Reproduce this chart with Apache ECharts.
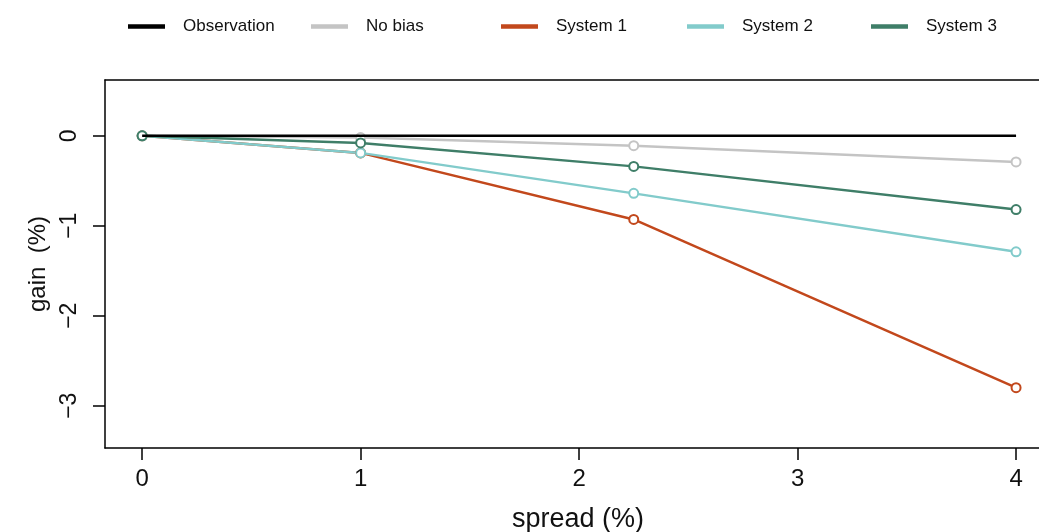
<!DOCTYPE html>
<html>
<head>
<meta charset="utf-8">
<script src="https://cdn.jsdelivr.net/npm/echarts@6/dist/echarts.min.js"></script>
<style>
html, body { margin: 0; padding: 0; background: #fff; }
#main { width: 1039px; height: 532px; }
</style>
</head>
<body>
<div id="main"></div>
<script>
var spread = [0, 1, 2.25, 4];
var observation = [0, 0, 0, 0];
var noBias = [0, -0.02, -0.11, -0.29];
var system1 = [0, -0.19, -0.93, -2.80];
var system2 = [0, -0.19, -0.64, -1.29];
var system3 = [0, -0.08, -0.34, -0.82];
var xTicks = [0, 1, 2, 3, 4];
var yTicks = [0, -1, -2, -3];

var names = ['Observation', 'No bias', 'System 1', 'System 2', 'System 3'];
var colors = ['#000000', '#c4c4c4', '#c2481c', '#82cbcb', '#3f7e68'];
var values = [observation, noBias, system1, system2, system3];
var legendLeft = [123, 306, 496, 682, 866];

var font = 'Liberation Sans, Arial, sans-serif';

function pairs(ys) {
    return spread.map(function (x, i) { return [x, ys[i]]; });
}

var dom = document.getElementById('main');
var myChart = echarts.init(dom);

var series = [];
var order = [1, 2, 3, 4, 0];
order.forEach(function (i) {
    series.push({
        name: names[i],
        type: 'line',
        data: pairs(values[i]),
        symbol: i === 0 ? 'none' : 'emptyCircle',
        symbolSize: 9,
        showSymbol: i !== 0,
        lineStyle: { color: colors[i], width: 2.5 },
        itemStyle: { color: colors[i], borderColor: colors[i], borderWidth: 2.5 },
        z: i === 0 ? 5 : 3,
        animation: false
    });
});

var legends = names.map(function (n, i) {
    return {
        data: [n],
        left: legendLeft[i],
        top: 13,
        icon: 'rect',
        itemWidth: 35,
        itemHeight: 2.5,
        itemStyle: { color: colors[i] },
        textStyle: { fontFamily: font, fontSize: 17, color: '#111', padding: [0, 0, 0, 14] }
    };
});

var axisBase = {
    type: 'value',
    min: -0.17,
    max: 4.105,
    splitLine: { show: false }
};

var option = {
    backgroundColor: '#fff',
    color: colors,
    legend: legends,
    grid: {
        left: 105,
        top: 80,
        right: 0,
        bottom: 84,
        outerBoundsMode: 'none'
    },
    xAxis: [
        Object.assign({}, axisBase, {
            position: 'bottom',
            name: 'spread (%)',
            nameLocation: 'middle',
            nameGap: 58,
            nameTextStyle: { fontFamily: font, fontSize: 27, color: '#111', padding: [0, 0, 0, 12] },
            axisLine: { show: true, onZero: false, lineStyle: { color: '#000', width: 1.5 } },
            axisTick: { show: true, length: 12, customValues: xTicks, lineStyle: { color: '#000', width: 1.5 } },
            axisLabel: { customValues: xTicks, margin: 19, fontFamily: font, fontSize: 24, color: '#111' }
        }),
        Object.assign({}, axisBase, {
            position: 'top',
            axisLine: { show: true, onZero: false, lineStyle: { color: '#000', width: 1.5 } },
            axisTick: { show: false },
            axisLabel: { show: false }
        })
    ],
    yAxis: {
        type: 'value',
        min: -3.47,
        max: 0.62,
        name: 'gain  (%)',
        nameLocation: 'middle',
        nameGap: 54,
        nameTextStyle: { fontFamily: font, fontSize: 24, color: '#111' },
        axisLine: { show: true, onZero: false, lineStyle: { color: '#000', width: 1.5 } },
        axisTick: { show: true, length: 12, customValues: yTicks, lineStyle: { color: '#000', width: 1.5 } },
        axisLabel: {
            customValues: yTicks,
            rotate: 90,
            margin: 24,
            fontFamily: font,
            fontSize: 23,
            color: '#111',
            formatter: function (v) { return v < 0 ? '\u2212' + Math.abs(v) : String(v); }
        },
        splitLine: { show: false }
    },
    series: series
};

myChart.setOption(option, true);
window.addEventListener('resize', function () {
    myChart.resize();
});
</script>
</body>
</html>
